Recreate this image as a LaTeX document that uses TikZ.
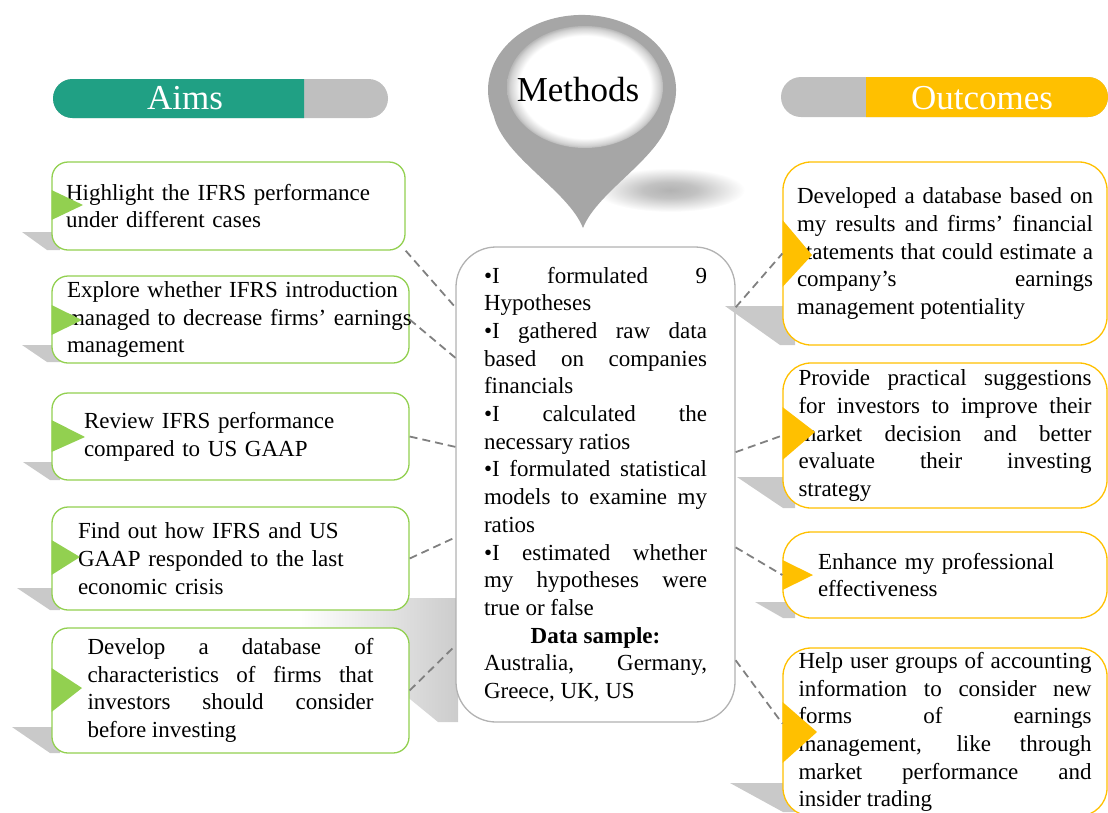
\documentclass[tikz,border=0pt]{standalone}
\usepackage{fontspec}
\setmainfont{Liberation Serif}
\usepackage{xcolor}
\usepackage{tikz}
\usetikzlibrary{calc}

\definecolor{aimgreen}{HTML}{20A084}
\definecolor{leafgreen}{HTML}{92D050}
\definecolor{outyellow}{HTML}{FFC000}
\definecolor{bargray}{HTML}{BFBFBF}
\definecolor{pingray}{HTML}{A6A6A6}
\definecolor{dashgray}{HTML}{808080}
\pgfdeclareradialshading{softshadow}{\pgfpoint{0bp}{0bp}}{color(0bp)=(black!30); color(9bp)=(black!24); color(25bp)=(white); color(50bp)=(white)}
\pgfdeclareradialshading{pinhole}{\pgfpoint{0bp}{0bp}}{color(0bp)=(white); color(21bp)=(white); color(24bp)=(black!18); color(25bp)=(black!28); color(50bp)=(black!28)}
\hyphenpenalty=10000 \exhyphenpenalty=10000 \tolerance=10000 \hbadness=10000 \hfuzz=20pt

\begin{document}
\begin{tikzpicture}[x=1pt,y=-1pt]
% Styles
\def\BoxFont{\fontsize{23}{27.7}\selectfont\parindent=0pt}
\def\HeadFont{\fontsize{35}{40}\selectfont}
\tikzstyle{aimbox}=[draw=leafgreen,line width=1.3pt,fill=white,rounded corners=16pt,inner sep=0pt,font=\BoxFont]
\tikzstyle{outbox}=[draw=outyellow,line width=1.3pt,fill=white,rounded corners=28pt,inner sep=0pt,font=\BoxFont]
\tikzstyle{methbox}=[draw=black!30,line width=1.3pt,fill=white,rounded corners=40pt,inner sep=0pt,font=\BoxFont]
\tikzstyle{header}=[text=white,font=\HeadFont]
\tikzstyle{link}=[draw=dashgray,line width=1.8pt,dash pattern=on 8pt off 5pt]
\tikzstyle{wedge}=[fill=black!21]
\useasboundingbox (0,0) rectangle (1108,812);
\clip (0,0) rectangle (1108,812);
% Shadows
\shade[shading=softshadow] (670,190) ellipse [x radius=75, y radius=22];
\shade[left color=white,right color=black!20] (300,598) -- (458,598) -- (458,722) -- (438,722) -- (405,695) -- (300,640) -- cycle;
% Pin
\fill[pingray] (583,228) .. controls (568,190) and (503,157) .. (493.7,115.6)
  arc[start angle=160, end angle=380, x radius=94, y radius=75]
  .. controls (663,157) and (598,190) .. (583,228) -- cycle;
\shade[shading=pinhole] (585,87) ellipse [x radius=78, y radius=61];
\node[font=\HeadFont] (meth) at (578,90) {Methods};
% Headers
\fill[bargray,rounded corners=19.5] (53,79) rectangle (388,118);
\begin{scope}
\clip (53,79) rectangle (304,118);
\fill[aimgreen,rounded corners=19.5] (53,79) rectangle (388,118);
\end{scope}
\node[header] (aims) at (185,98) {Aims};
\fill[bargray,rounded corners=20] (781,77) rectangle (1108,117);
\begin{scope}
\clip (866,70) rectangle (1110,125);
\fill[outyellow,rounded corners=20] (781,77) rectangle (1108,117);
\end{scope}
\node[header] (outc) at (982,98) {Outcomes};
% Methods box
\node[methbox,minimum width=279,minimum height=475,text width=223,align=justify] (cm) at (595.5,484.5)
  {•I formulated 9\linebreak Hypotheses\par
   •I gathered raw data\linebreak based on companies\linebreak financials\par
   •I calculated the\linebreak necessary ratios\par
   •I formulated statistical\linebreak models to examine my\linebreak ratios\par
   •I estimated whether\linebreak my hypotheses were\linebreak true or false\par
   {\centering\textbf{Data sample:}\par}
   Australia, Germany,\linebreak Greece, UK, US};
% Wedges
\fill[wedge] (22,232) -- (60,232) -- (60,250) -- (47,250) -- cycle;
\fill[wedge] (22,345) -- (60,345) -- (60,362) -- (47,362) -- cycle;
\fill[wedge] (23,462) -- (60,462) -- (60,480) -- (50,480) -- cycle;
\fill[wedge] (17,588) -- (60,588) -- (60,610) -- (50,610) -- cycle;
\fill[wedge] (12,727) -- (60,727) -- (60,753) -- (50,753) -- cycle;
\fill[wedge] (725,306) -- (795,306) -- (795,345) -- (780,345) -- cycle;
\fill[wedge] (737,477) -- (795,477) -- (795,508) -- (783,508) -- cycle;
\fill[wedge] (755,602) -- (795,602) -- (795,618) -- (783,618) -- cycle;
\fill[wedge] (730,783) -- (795,783) -- (795,812) -- (783,812) -- cycle;
% Aims
\node[aimbox,minimum width=353,minimum height=88,text width=325,align=left] (a1) at (228.5,206)
  {Highlight the IFRS performance\\under different cases};
\node[aimbox,minimum width=357,minimum height=87,text width=327,align=left] (a2) at (230.5,319.5)
  {\mbox{Explore whether IFRS introduction}\\\mbox{managed to decrease firms’ earnings}\\management};
\node[aimbox,minimum width=357,minimum height=87,text width=293,align=left] (a3) at (230.5,436.5)
  {Review IFRS performance\\compared to US GAAP};
\node[aimbox,minimum width=357,minimum height=103,text width=305,align=left] (a4) at (230.5,558.5)
  {Find out how IFRS and US\\GAAP responded to the last\\economic crisis};
\node[aimbox,minimum width=357,minimum height=125,text width=286,align=justify] (a5) at (230.5,690.5)
  {Develop a database of\linebreak characteristics of firms that\linebreak investors should consider\linebreak before investing};
% Outcomes
\node[outbox,minimum width=324,minimum height=183,text width=296,align=justify] (o1) at (945,253.5)
  {Developed a database based on\linebreak my results and firms’ financial\linebreak statements that could estimate a\linebreak company’s earnings\linebreak management potentiality};
\node[outbox,minimum width=324,minimum height=145,text width=293,align=justify] (o2) at (945,435.5)
  {Provide practical suggestions\linebreak for investors to improve their\linebreak market decision and better\linebreak evaluate their investing\linebreak strategy};
\node[outbox,minimum width=324,minimum height=86,text width=254,align=left] (o3) at (945,575)
  {Enhance my professional\\effectiveness};
\node[outbox,minimum width=324,minimum height=168,text width=293,align=justify] (o4) at (945,732)
  {Help user groups of accounting\linebreak information to consider new\linebreak forms of earnings\linebreak management, like through\linebreak market performance and\linebreak insider trading};
% Triangles
\fill[leafgreen] (51.5,190) -- (83,205) -- (51.5,220) -- cycle;
\fill[leafgreen] (51.5,305) -- (82,320) -- (51.5,335) -- cycle;
\fill[leafgreen] (51.5,420) -- (85,437) -- (51.5,452) -- cycle;
\fill[leafgreen] (51.5,540) -- (80,557) -- (51.5,575) -- cycle;
\fill[leafgreen] (51.5,668) -- (82,688) -- (51.5,712) -- cycle;
\fill[outyellow] (782.5,220) -- (812,255) -- (782.5,287) -- cycle;
\fill[outyellow] (782.5,407) -- (815,432) -- (782.5,460) -- cycle;
\fill[outyellow] (782.5,560) -- (813,575) -- (782.5,590) -- cycle;
\fill[outyellow] (782.5,702) -- (817,732) -- (782.5,763) -- cycle;
% Links
\draw[link] (a1.south east) -- ($(cm.north west)!0.128!(cm.south west)$);
\draw[link] (a2.east) -- ($(cm.north west)!0.234!(cm.south west)$);
\draw[link] (a3.east) -- ($(cm.north west)!0.421!(cm.south west)$);
\draw[link] (a4.east) -- ($(cm.north west)!0.611!(cm.south west)$);
\draw[link] (a5.east) -- ($(cm.north west)!0.838!(cm.south west)$);
\draw[link] ($(cm.north east)!0.128!(cm.south east)$) -- (o1.west);
\draw[link] ($(cm.north east)!0.432!(cm.south east)$) -- (o2.west);
\draw[link] ($(cm.north east)!0.632!(cm.south east)$) -- (o3.west);
\draw[link] ($(cm.north east)!0.869!(cm.south east)$) -- ($(o4.north west)!0.45!(o4.south west)$);
\end{tikzpicture}
\end{document}
